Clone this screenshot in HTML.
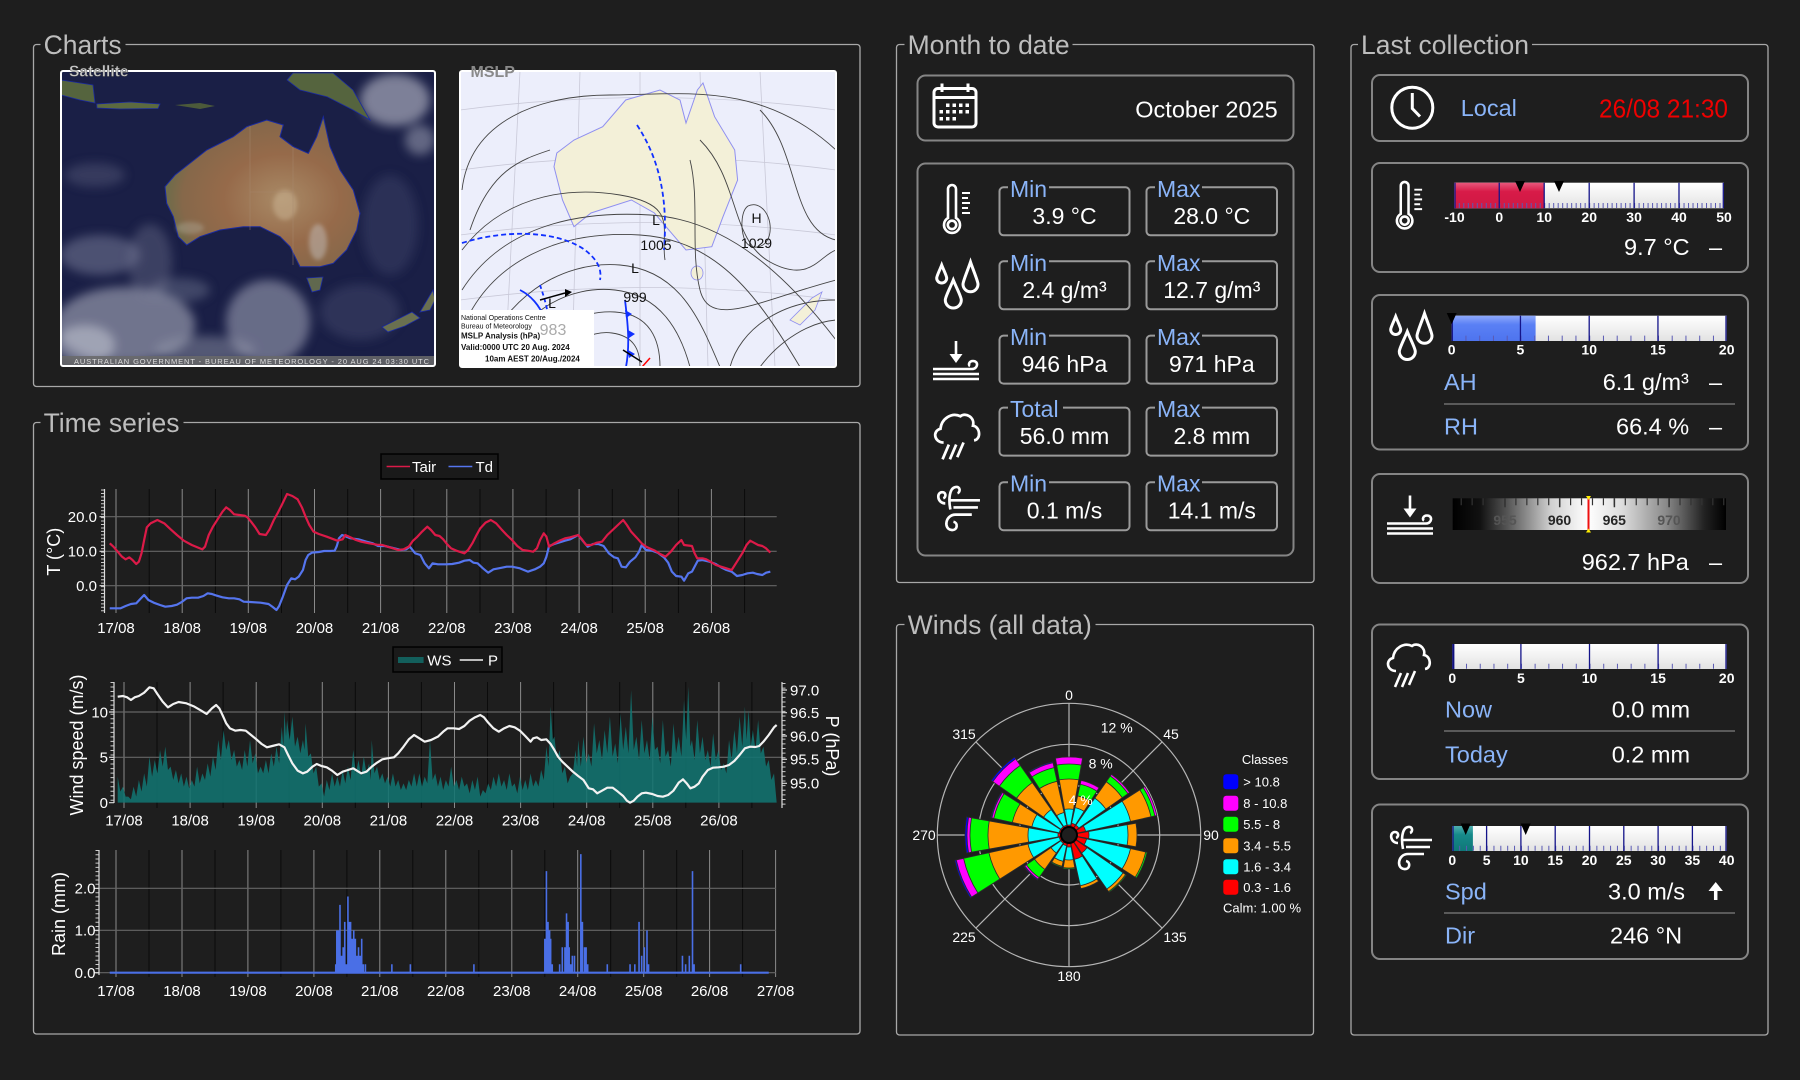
<!DOCTYPE html>
<html><head><meta charset="utf-8">
<style>
html,body{margin:0;padding:0;background:#1e1e1e;}
svg{display:block;}
text{font-family:"Liberation Sans",Arial,sans-serif;}
</style></head><body>
<svg width="1800" height="1080" viewBox="0 0 1800 1080" xmlns="http://www.w3.org/2000/svg">
<defs>
<linearGradient id="gBar" x1="0" y1="0" x2="0" y2="1"><stop offset="0" stop-color="#ffffff"/><stop offset="0.5" stop-color="#f1f1f1"/><stop offset="1" stop-color="#e2e2e2"/></linearGradient>
<linearGradient id="gRed" x1="0" y1="0" x2="0" y2="1"><stop offset="0" stop-color="#e8587c"/><stop offset="0.35" stop-color="#d81b48"/><stop offset="1" stop-color="#cf1944"/></linearGradient>
<linearGradient id="gBlue" x1="0" y1="0" x2="0" y2="1"><stop offset="0" stop-color="#8ea9fb"/><stop offset="0.35" stop-color="#5a80f5"/><stop offset="1" stop-color="#4e74ee"/></linearGradient>
<linearGradient id="gTeal" x1="0" y1="0" x2="0" y2="1"><stop offset="0" stop-color="#4fb0b0"/><stop offset="0.35" stop-color="#168a8a"/><stop offset="1" stop-color="#0f7777"/></linearGradient>
<linearGradient id="gPress" x1="0" y1="0" x2="1" y2="0"><stop offset="0" stop-color="#000"/><stop offset="0.1" stop-color="#111"/><stop offset="0.2" stop-color="#555"/><stop offset="0.36" stop-color="#d0d0d0"/><stop offset="0.495" stop-color="#fff"/><stop offset="0.62" stop-color="#dcdcdc"/><stop offset="0.78" stop-color="#8a8a8a"/><stop offset="0.92" stop-color="#222"/><stop offset="1" stop-color="#000"/></linearGradient>
<radialGradient id="gAus" cx="0.6" cy="0.55" r="0.6"><stop offset="0" stop-color="#a98a66"/><stop offset="0.5" stop-color="#966a4a"/><stop offset="0.85" stop-color="#86684a"/><stop offset="1" stop-color="#6c6c4a"/></radialGradient>
<filter id="bl" x="-50%" y="-50%" width="200%" height="200%"><feGaussianBlur stdDeviation="5"/></filter>
<filter id="bl2" x="-50%" y="-50%" width="200%" height="200%"><feGaussianBlur stdDeviation="2"/></filter>
<clipPath id="cs"><rect x="61" y="71" width="374" height="295"/></clipPath>
<clipPath id="cm"><rect x="460" y="71" width="376" height="296"/></clipPath>
<path id="w" d="M0,0 L-0.1736,-0.9848 A1,1 0 0 1 0.1736,-0.9848 Z" stroke="#2a2a2a" stroke-width="0.8" vector-effect="non-scaling-stroke"/>
<g id="iTherm" fill="none" stroke="#fff" stroke-width="2.6">
<path d="M8,35 V6 A4,4 0 0 1 16,6 V35 A8,8 0 1 1 8,35 Z"/>
<circle cx="12" cy="41.9" r="4.2"/>
<path d="M22,10H30 M22,15H28 M22,20H30 M22,25H28 M22,30H30" stroke-width="2"/>
</g>
<g id="iDrops" fill="none" stroke="#fff" stroke-width="3">
<path d="M6.7,4 C8.7,9.2 11.7,15 11.7,17 A5,5 0 0 1 1.7,17 C1.7,15 4.7,9.2 6.7,4 Z"/>
<path d="M35.5,1 C38.5,9.9 43,20.2 43,23.2 A7.5,7.5 0 0 1 28,23.2 C28,20.2 32.5,9.9 35.5,1 Z"/>
<path d="M18.3,19 C21.5,27 26.3,35.8 26.3,39 A8,8 0 0 1 10.3,39 C10.3,35.8 15.1,27 18.3,19 Z"/>
</g>
<g id="iPress" fill="none" stroke="#fff" stroke-width="2.6">
<path d="M24,1 V18"/>
<polygon points="17.5,14 30.5,14 24,23" fill="#fff" stroke="none"/>
<path d="M1,29 H40 C46,29 47,21 41,21 C37,21 36,25 38,26"/>
<path d="M1,34 H47 M1,39 H47"/>
</g>
<g id="iRain" fill="none" stroke="#fff" stroke-width="2.6">
<path d="M12,30 C3,30 1,19 9,17 C10,7 20,1 28,5 C33,1 42,6 40,14 C47,15 48,27 41,28"/>
<path d="M17,32 L11,46 M24,32 L18,46 M31,30 L25,44"/>
</g>
<g id="iWind" fill="none" stroke="#fff" stroke-width="2.6">
<path d="M14,20 C6,20 5,9 11,9 C15,9 15,14 12,15"/>
<path d="M19,26 C17,16 18,5 24,4 C29,3 29,9 26,10"/>
<path d="M19,17 H48 M22,24 H46"/>
<path d="M24,31 H40 M24,31 C14,31 12,45 20,46 C26,47 27,39 22,38"/>
</g>
</defs>

<rect width="1800" height="1080" fill="#1e1e1e"/>

<!-- fieldsets -->
<g fill="none" stroke="#a8a8a8" stroke-width="1.3">
<rect x="33.5" y="44.5" width="826.5" height="342" rx="3"/>
<rect x="33.5" y="422.5" width="826.5" height="611.5" rx="3"/>
<rect x="896.5" y="44.5" width="417.5" height="538" rx="3"/>
<rect x="896.5" y="624.5" width="417" height="410.5" rx="3"/>
<rect x="1351" y="44.5" width="417" height="990.5" rx="3"/>
</g>
<g fill="#1e1e1e">
<rect x="40.5" y="40" width="85" height="9"/>
<rect x="40.5" y="418" width="143" height="9"/>
<rect x="904.5" y="40" width="168" height="9"/>
<rect x="904.5" y="620" width="191" height="9"/>
<rect x="1358" y="40" width="174" height="9"/>
</g>
<g font-size="26.5" fill="#bdbdbd">
<text x="43.6" y="53.8">Charts</text>
<text x="43.6" y="432">Time series</text>
<text x="907.6" y="53.8">Month to date</text>
<text x="907.7" y="634">Winds (all data)</text>
<text x="1361" y="53.8">Last collection</text>
</g>

<!-- ============ SATELLITE ============ -->
<g clip-path="url(#cs)">
<rect x="61" y="71" width="374" height="295" fill="#1a1f46"/>
<g filter="url(#bl)">
<ellipse cx="125" cy="325" rx="70" ry="38" fill="#b8bac8" opacity="0.55"/>
<ellipse cx="85" cy="345" rx="30" ry="20" fill="#d0d2dc" opacity="0.5"/>
<ellipse cx="100" cy="255" rx="40" ry="20" fill="#8a8ea8" opacity="0.45"/>
<ellipse cx="150" cy="262" rx="22" ry="38" fill="#7a7e98" opacity="0.35"/>
<ellipse cx="268" cy="322" rx="42" ry="42" fill="#a8abbd" opacity="0.55"/>
<ellipse cx="205" cy="350" rx="50" ry="14" fill="#9a9db0" opacity="0.45"/>
<ellipse cx="395" cy="100" rx="35" ry="26" fill="#e0e2ea" opacity="0.5"/>
<ellipse cx="420" cy="140" rx="15" ry="15" fill="#d0d2de" opacity="0.4"/>
<ellipse cx="95" cy="175" rx="30" ry="12" fill="#6a6e8c" opacity="0.35"/>
<ellipse cx="390" cy="225" rx="28" ry="50" fill="#3e446c" opacity="0.45"/>
<ellipse cx="360" cy="312" rx="40" ry="28" fill="#545a7c" opacity="0.35"/>
<ellipse cx="180" cy="290" rx="30" ry="12" fill="#8a8ea6" opacity="0.35"/>
</g>
<path d="M293,73 L333,73 L353,90 L370,120 L353,110 L327,96.7 L300,90 L287,80 Z" fill="#55643e" stroke="#1a2aa0" stroke-width="0.8"/>
<path d="M61,80 L93,85 L95,103 L80,100 L61,95 Z" fill="#55643e" stroke="#1a2aa0" stroke-width="0.8"/>
<path d="M96.7,104 L130,102 L160,104 L158,108.5 L120,109 L97,108 Z" fill="#5c6a40" stroke="#1a2aa0" stroke-width="0.8"/>
<path d="M175,105 L200,103 L215,106 L200,109 Z" fill="#4c5a3a"/>
<polygon points="165,186.7 175,175 206.7,150 233.3,136.7 246.7,126.7 266.7,120 283.3,125 280,136.7 293.3,146.7 308.3,153.3 316.7,136.7 323.3,116.7 330,146.7 340,170 353.3,190 360,213.3 356.7,230 346.7,250 333.3,263.3 320,266.7 300,266.7 290,246.7 280,236.7 273.3,233.3 260,226.7 243.3,226.7 220,230 200,236.7 186.7,245 178.3,236.7 173.3,216.7 166.7,203.3" fill="url(#gAus)" stroke="#1a2aa0" stroke-width="1"/>
<g filter="url(#bl2)">
<ellipse cx="285" cy="205" rx="12" ry="15" fill="#c8b090" opacity="0.55"/>
<ellipse cx="318" cy="242" rx="9" ry="18" fill="#c8c8c8" opacity="0.45"/>
<ellipse cx="190" cy="228" rx="14" ry="6" fill="#b8b8a8" opacity="0.35"/>
</g>
<path d="M250,126 V230 M250,192 H293 M293,147 V265" stroke="#a88a70" stroke-width="0.6" fill="none" opacity="0.7"/>
<path d="M306.7,278 L323,277 L320,290 L312,292 Z" fill="#60684e" stroke="#1a2aa0" stroke-width="0.8"/>
<path d="M382,327 L400,318 L412,312 L420,318 L405,326 L388,332 Z M420,312 L433,290 L435,300 L430,310 Z" fill="#6a7050" stroke="#1a2aa0" stroke-width="0.8"/>
<rect x="61" y="356" width="374" height="10" fill="#6a6a6a" opacity="0.85"/>
<text x="74" y="364" font-size="7.5" fill="#ddd" letter-spacing="0.9">AUSTRALIAN GOVERNMENT - BUREAU OF METEOROLOGY - 20 AUG 24 03:30 UTC</text>
</g>
<rect x="61" y="71" width="374" height="295" rx="2" fill="none" stroke="#fff" stroke-width="2"/>
<text x="69" y="76.5" font-size="15.5" font-weight="bold" fill="#c8c8c8" stroke="#333" stroke-width="0.4">Satellite</text>

<!-- ============ MSLP ============ -->
<g clip-path="url(#cm)">
<rect x="460" y="71" width="376" height="296" fill="#eceefb"/>
<g fill="none" stroke="#c9c9d8" stroke-width="0.8">
<path d="M460,110 Q648,85 836,110 M460,170 Q648,145 836,170 M460,235 Q648,210 836,235 M460,300 Q648,275 836,300"/>
<path d="M520,71 L505,367 M580,71 L572,367 M640,71 L640,367 M700,71 L708,367 M760,71 L775,367"/>
</g>
<polygon points="556.8,153 574,140 602.7,126.7 625.7,100 660,90 680,100 686,123 697.4,90 703,83 714.6,116.7 734.7,150 737.6,180 723,216.7 711.8,246.7 686,250 666,226.7 654.4,213 631.4,200 591,213 574,226.7 562.5,200 554,166.7" fill="#f3f0d8" stroke="#8f8ff0" stroke-width="1"/>
<ellipse cx="697" cy="273" rx="6" ry="7" fill="#f3f0d8" stroke="#8f8ff0" stroke-width="0.8"/>
<path d="M790,320 L812,298 L822,292 L815,310 L800,325 Z" fill="#f3f0d8" stroke="#8f8ff0" stroke-width="0.8"/>
<g fill="none" stroke="#444" stroke-width="0.9">
<path d="M462,190 C470,120 540,95 610,95 S760,80 836,150"/>
<path d="M470,230 C490,170 520,160 550,150"/>
<path d="M462,250 C500,200 560,185 620,195 S660,230 665,260"/>
<path d="M462,290 C500,230 570,210 650,215 S790,280 836,340"/>
<path d="M462,330 C490,260 560,230 640,235 S760,300 800,367"/>
<path d="M480,367 C500,300 560,260 620,265 S700,320 720,367"/>
<path d="M500,367 C520,310 570,285 615,290 S680,330 690,367"/>
<path d="M530,367 C540,330 580,310 615,312 S660,340 660,367"/>
<path d="M560,367 C565,345 590,330 612,333 S640,350 640,367"/>
<path d="M700,140 C740,180 730,240 770,262 S820,255 836,250"/>
<path d="M760,110 C800,150 790,230 836,240"/>
<path d="M730,367 C740,330 780,300 836,300"/>
<path d="M760,367 C780,340 810,322 836,320"/>
<path d="M690,160 C700,200 690,250 700,290 S760,300 836,280"/>
<path d="M748,206 C760,200 772,215 770,232 C768,250 748,252 744,238 C740,225 742,210 748,206 Z"/>
</g>
<g fill="none" stroke="#1030ff" stroke-width="1.8">
<path d="M637,125 C660,160 668,200 664,250" stroke-dasharray="5,3"/>
<path d="M462,243 C510,228 560,232 585,250 C598,260 602,270 600,280" stroke-dasharray="5,3"/>
<path d="M540,285 C545,300 550,315 548,330" stroke-dasharray="4,3"/>
<path d="M625,300 C628,325 630,345 626,367"/>
<path d="M520,290 C530,295 540,305 545,320"/>
</g>
<g fill="#1030ff"><polygon points="625,310 632,314 626,318"/><polygon points="628,330 635,334 629,338"/><polygon points="628,350 635,354 629,358"/></g>
<path d="M540,300 L565,293" stroke="#000" stroke-width="1.5"/><polygon points="565,289 572,292 565,297" fill="#000"/>
<path d="M623,350 L642,362" stroke="#000" stroke-width="1.5"/>
<path d="M642,367 L650,358" stroke="#f00" stroke-width="1.5"/>
<g font-size="14" fill="#111" text-anchor="middle">
<text x="656" y="225">L</text><text x="656" y="250">1005</text>
<text x="635" y="273">L</text><text x="635" y="302">999</text>
<text x="756.5" y="223">H</text><text x="756.5" y="248">1029</text>
<text x="552" y="308">L</text>
</g>
<rect x="460" y="310" width="134" height="57" fill="#fff"/>
<text x="553" y="335" font-size="16" fill="#aaa" text-anchor="middle">983</text>
<g fill="#111">
<text x="461" y="320" font-size="7">National Operations Centre</text>
<text x="461" y="328.5" font-size="7">Bureau of Meteorology</text>
<text x="461" y="338.5" font-size="8" font-weight="bold">MSLP Analysis (hPa)</text>
<text x="461" y="350" font-size="8" font-weight="bold">Valid:0000 UTC 20 Aug. 2024</text>
<text x="485" y="361.5" font-size="8" font-weight="bold">10am AEST 20/Aug./2024</text>
</g>
</g>
<rect x="460" y="71" width="376" height="296" rx="2" fill="none" stroke="#fff" stroke-width="2"/>
<text x="470.5" y="77" font-size="16" font-weight="bold" fill="#8a8a8a">MSLP</text>

<!-- ============ TEMPERATURE CHART ============ -->
<path d="M149.2,489V613 M215.4,489V613 M281.5,489V613 M347.7,489V613 M413.8,489V613 M480,489V613 M546.1,489V613 M612.3,489V613 M678.4,489V613 M744.6,489V613" stroke="#0b0b0b" stroke-width="1"/>
<path d="M116,489V613 M182.2,489V613 M248.3,489V613 M314.5,489V613 M380.6,489V613 M446.8,489V613 M512.9,489V613 M579.1,489V613 M645.2,489V613 M711.4,489V613" stroke="#8a8a8a" stroke-width="1"/>
<path d="M104.5,516.7H776.7 M104.5,551.3H776.7 M104.5,585.7H776.7" stroke="#666" stroke-width="1.2"/>
<path d="M104.5,489V613" stroke="#ddd" stroke-width="1.2"/>
<line x1="102.5" y1="489.5" x2="102.5" y2="613" stroke="#ccc" stroke-width="3" stroke-dasharray="1 2.45"/>
<path d="M99.5,516.7H104.5 M99.5,551.3H104.5 M99.5,585.7H104.5" stroke="#ddd" stroke-width="1.2"/>
<g font-size="15" fill="#fff" text-anchor="end">
<text x="97" y="522">20.0</text><text x="97" y="556.7">10.0</text><text x="97" y="591">0.0</text>
</g>
<g font-size="15" fill="#fff" text-anchor="middle">
<text x="116" y="633">17/08</text><text x="182.2" y="633">18/08</text><text x="248.3" y="633">19/08</text><text x="314.5" y="633">20/08</text><text x="380.6" y="633">21/08</text><text x="446.8" y="633">22/08</text><text x="512.9" y="633">23/08</text><text x="579.1" y="633">24/08</text><text x="645.2" y="633">25/08</text><text x="711.4" y="633">26/08</text>
</g>
<text transform="translate(54,551.7) rotate(-90)" font-size="18" fill="#fff" text-anchor="middle" dominant-baseline="central">T (°C)</text>
<g transform="translate(33,420) scale(0.529299,0.333333)" fill="none" stroke-width="2.2" stroke-linejoin="round">
<polyline vector-effect="non-scaling-stroke" stroke="#5575ee" points="145,565 155,565 165,565 175,558 185,552 195,550 202,538 210,525 218,540 228,548 240,555 250,560 262,558 272,554 282,545 290,535 300,533 312,533 322,528 330,520 338,522 345,526 358,532 370,535 380,535 390,538 398,545 410,546 430,548 445,552 452,560 460,570 465,558 472,530 480,495 488,475 495,478 502,470 510,450 515,420 520,405 527,398 540,396 550,393 562,393 570,392 574,378 578,355 584,345 592,350 600,355 615,358 630,365 642,370 652,378 665,378 680,384 695,390 705,388 712,380 722,400 732,405 740,430 748,445 755,430 765,433 780,433 792,432 805,428 815,422 825,420 832,428 840,430 850,445 860,458 870,448 880,445 895,440 905,440 920,445 935,455 948,448 958,440 965,430 970,410 975,378 985,372 995,367 1005,362 1015,358 1030,345 1040,365 1048,380 1058,372 1068,372 1078,378 1088,400 1098,412 1105,415 1112,440 1120,442 1128,425 1138,412 1145,395 1150,375 1158,390 1170,392 1180,398 1192,412 1200,428 1207,455 1215,468 1225,470 1230,482 1238,460 1245,455 1250,440 1256,422 1265,420 1278,425 1290,432 1300,442 1310,450 1320,455 1330,468 1340,465 1350,460 1360,458 1368,462 1378,465 1385,458 1393,455"/>
<polyline vector-effect="non-scaling-stroke" stroke="#dc1a48" points="145,370 152,380 160,395 168,410 175,418 182,412 188,420 195,432 200,425 205,400 210,360 215,322 222,310 235,300 248,310 260,328 272,345 285,362 300,375 320,388 325,380 332,345 340,320 350,295 358,275 365,262 372,270 380,283 390,285 400,287 405,292 412,305 420,322 428,342 440,345 447,328 455,300 462,280 470,255 480,222 490,228 500,238 508,262 515,290 522,315 530,335 540,342 555,350 565,356 575,362 585,358 590,345 600,352 610,360 620,365 635,370 650,374 660,375 670,380 680,385 690,390 700,388 710,380 718,362 725,352 735,335 745,320 752,330 760,345 768,348 775,358 782,372 790,385 800,392 815,400 822,390 830,370 838,345 845,325 855,308 865,300 875,310 885,328 895,345 905,360 915,378 925,390 935,392 945,395 952,385 958,360 965,340 970,350 975,380 985,370 995,362 1005,355 1015,352 1030,345 1038,360 1045,375 1055,375 1065,368 1075,365 1085,345 1095,330 1105,315 1115,300 1122,315 1130,335 1140,352 1150,370 1158,380 1165,385 1175,392 1185,402 1195,410 1205,395 1215,375 1225,360 1230,375 1245,378 1250,400 1255,415 1265,415 1272,418 1280,425 1290,435 1300,440 1310,445 1320,450 1330,425 1340,400 1348,375 1355,362 1362,368 1370,375 1378,378 1385,385 1393,398"/>
</g>
<rect x="381" y="454" width="117" height="25" fill="#1a1a1a" stroke="#000" stroke-width="1.5"/>
<path d="M386.6,466.5H410" stroke="#dc1a48" stroke-width="1.5"/>
<path d="M448.5,466.5H472.3" stroke="#5575ee" stroke-width="1.5"/>
<g font-size="15" fill="#fff"><text x="412" y="472">Tair</text><text x="475.5" y="472">Td</text></g>

<!-- ============ WIND CHART ============ -->
<path d="M157,682V808 M223.1,682V808 M289.2,682V808 M355.3,682V808 M421.4,682V808 M487.5,682V808 M553.6,682V808 M619.7,682V808 M685.8,682V808 M751.9,682V808" stroke="#0b0b0b" stroke-width="1"/>
<path d="M124,682V808 M190.1,682V808 M256.2,682V808 M322.3,682V808 M388.4,682V808 M454.5,682V808 M520.6,682V808 M586.7,682V808 M652.8,682V808 M718.9,682V808" stroke="#8a8a8a" stroke-width="1"/>
<path d="M114,712H782 M114,757.3H782" stroke="#666" stroke-width="1.2"/>
<g transform="translate(33,640) scale(0.529299,0.333333)">
<polygon fill="#127471" fill-opacity="0.88" points="160,488 160,410 165,455 170,440 175,470 180,470 185,478 190,440 195,470 200,420 205,455 210,400 215,440 220,350 225,410 230,360 235,400 240,330 245,380 250,320 255,390 260,380 265,420 270,390 275,430 280,400 285,440 290,410 295,445 300,420 305,440 310,380 315,430 320,400 325,420 330,370 335,410 340,350 345,390 350,300 355,360 360,270 365,330 370,300 375,360 380,330 385,380 390,360 395,390 400,330 405,380 410,300 415,370 420,340 425,400 430,380 435,400 440,360 445,400 450,340 455,380 460,320 465,370 470,260 473,320 475,215 478,290 480,240 485,300 490,230 495,320 500,290 505,340 510,300 513,330 515,250 520,350 525,340 530,400 535,380 540,440 545,430 550,470 555,420 560,450 565,400 570,440 575,410 580,440 585,390 590,430 595,380 600,420 605,330 610,400 615,360 620,410 625,350 630,400 635,370 638,420 640,300 645,400 650,380 655,420 660,400 665,430 670,410 675,440 680,400 685,440 690,420 695,450 700,430 705,450 710,420 715,440 720,400 725,440 730,400 735,440 740,410 745,430 750,300 755,420 760,400 765,440 770,410 775,450 780,420 785,440 790,380 795,440 800,420 805,450 810,410 815,440 820,430 825,460 830,420 835,450 840,410 845,470 850,450 855,460 860,430 865,450 870,410 875,440 880,400 885,440 890,420 895,450 900,400 905,440 910,430 915,460 920,410 925,450 930,420 935,450 940,400 945,440 950,420 955,440 960,390 965,420 970,320 974,380 978,200 982,300 985,290 990,360 995,330 1000,400 1005,380 1010,430 1015,410 1020,400 1025,330 1028,380 1030,300 1035,380 1040,290 1045,370 1050,340 1055,380 1060,250 1065,340 1070,300 1075,360 1080,270 1085,340 1090,230 1095,350 1100,310 1105,370 1110,220 1115,330 1120,260 1125,340 1130,150 1135,330 1140,290 1145,360 1150,240 1155,340 1160,300 1165,360 1170,230 1175,330 1180,320 1185,370 1190,240 1195,350 1200,330 1205,380 1210,250 1215,340 1220,290 1225,350 1230,180 1234,300 1238,140 1242,320 1245,300 1250,360 1255,240 1260,340 1265,290 1270,360 1275,330 1280,380 1285,280 1290,360 1295,330 1300,390 1305,370 1310,400 1315,300 1320,360 1325,270 1330,340 1335,230 1340,320 1345,200 1348,300 1352,210 1356,320 1360,270 1365,330 1370,240 1375,340 1380,320 1385,380 1390,360 1395,420 1400,400 1405,488"/>
<polyline vector-effect="non-scaling-stroke" fill="none" stroke="#f2f2f2" stroke-width="2.2" stroke-linejoin="round" points="160,170 170,168 178,172 185,180 192,172 200,168 210,158 220,142 228,145 235,162 245,185 255,202 265,192 275,186 290,190 305,200 318,212 328,222 338,205 346,195 352,205 358,225 365,250 372,265 382,272 392,270 402,272 412,285 422,298 432,312 442,322 452,318 465,313 475,322 482,345 490,370 500,392 510,400 518,395 528,380 536,372 545,378 555,382 565,392 575,405 585,395 595,390 605,385 612,392 620,400 630,395 640,380 650,368 660,358 670,355 682,352 690,340 700,320 710,298 720,285 730,295 740,305 752,300 765,290 775,275 783,265 795,265 805,267 815,258 825,242 835,232 845,225 852,232 860,248 870,265 880,275 890,265 900,258 910,262 920,272 930,288 940,305 945,295 952,292 960,300 970,298 978,312 985,330 992,350 1000,365 1010,380 1020,395 1030,408 1040,420 1050,445 1058,448 1066,460 1075,452 1085,443 1095,443 1105,455 1115,468 1122,482 1128,488 1135,482 1142,470 1150,460 1158,458 1170,462 1180,468 1190,470 1200,465 1210,452 1220,428 1228,418 1235,430 1242,445 1250,440 1258,430 1265,410 1275,390 1285,383 1295,382 1305,380 1315,375 1325,363 1335,345 1345,325 1355,320 1365,321 1372,318 1380,305 1390,285 1400,262 1405,255"/>
</g>
<path d="M114,682V803 M782,682V808" stroke="#ddd" stroke-width="1.2"/>
<line x1="112" y1="682" x2="112" y2="803" stroke="#ccc" stroke-width="3" stroke-dasharray="1 3.53"/>
<line x1="784" y1="683" x2="784" y2="808" stroke="#ccc" stroke-width="3" stroke-dasharray="1 3.64"/>
<path d="M109,712H114 M109,757.3H114 M109,802.7H114 M782,690H787 M782,712.7H787 M782,736H787 M782,759.3H787 M782,783.3H787" stroke="#ddd" stroke-width="1.2"/>
<g font-size="15" fill="#fff" text-anchor="end">
<text x="108" y="717.4">10</text><text x="108" y="762.7">5</text><text x="108" y="808">0</text>
</g>
<g font-size="15" fill="#fff">
<text x="790" y="695.4">97.0</text><text x="790" y="718">96.5</text><text x="790" y="741.4">96.0</text><text x="790" y="764.7">95.5</text><text x="790" y="788.7">95.0</text>
</g>
<g font-size="15" fill="#fff" text-anchor="middle">
<text x="124" y="825.4">17/08</text><text x="190.1" y="825.4">18/08</text><text x="256.2" y="825.4">19/08</text><text x="322.3" y="825.4">20/08</text><text x="388.4" y="825.4">21/08</text><text x="454.5" y="825.4">22/08</text><text x="520.6" y="825.4">23/08</text><text x="586.7" y="825.4">24/08</text><text x="652.8" y="825.4">25/08</text><text x="718.9" y="825.4">26/08</text>
</g>
<text transform="translate(77,745) rotate(-90)" font-size="18" fill="#fff" text-anchor="middle" dominant-baseline="central">Wind speed (m/s)</text>
<text transform="translate(832,746) rotate(90)" font-size="18" fill="#fff" text-anchor="middle" dominant-baseline="central">P (hPa)</text>
<rect x="393" y="647" width="109" height="25" fill="#1a1a1a" stroke="#000" stroke-width="1.5"/>
<rect x="398" y="657" width="25.6" height="6" fill="#135f5c"/>
<path d="M459.7,660H483" stroke="#f2f2f2" stroke-width="1.5"/>
<g font-size="15" fill="#fff"><text x="427.3" y="665.5">WS</text><text x="488" y="665.5">P</text></g>

<!-- ============ RAIN CHART ============ -->
<path d="M149,850V977 M215,850V977 M280.9,850V977 M346.9,850V977 M412.8,850V977 M478.8,850V977 M544.8,850V977 M610.7,850V977 M676.7,850V977 M742.6,850V977" stroke="#0b0b0b" stroke-width="1"/>
<path d="M116,850V977 M182,850V977 M247.9,850V977 M313.9,850V977 M379.8,850V977 M445.8,850V977 M511.8,850V977 M577.7,850V977 M643.7,850V977 M709.6,850V977 M775.6,850V977" stroke="#8a8a8a" stroke-width="1"/>
<path d="M99,888.3H776 M99,930.3H776 M99,972.7H776" stroke="#666" stroke-width="1.2"/>
<path d="M99,850V975" stroke="#ddd" stroke-width="1.2"/>
<line x1="97" y1="850" x2="97" y2="975" stroke="#ccc" stroke-width="3" stroke-dasharray="1 3.22"/>
<path d="M94,888.3H99 M94,930.3H99 M94,972.7H99" stroke="#ddd" stroke-width="1.2"/>
<g transform="translate(33,830) scale(0.529299,0.333333)" fill="none" stroke="#4a6fe6">
<path vector-effect="non-scaling-stroke" stroke-width="2.2" d="M145,428H1390"/>
<path vector-effect="non-scaling-stroke" stroke-width="1.6" d="M572,428V402.6 M574,428V301 M577,428V301 M580,428V224.8 M583,428V377.2 M586,428V351.8 M589,428V275.6 M592,428V402.6 M595,428V199.4 M598,428V275.6 M600,428V275.6 M603,428V326.4 M606,428V301 M609,428V326.4 M612,428V377.2 M615,428V351.8 M618,428V377.2 M621,428V326.4 M624,428V402.6 M628,428V402.6 M678,428V402.6 M713,428V402.6 M833,428V402.6 M967,428V326.4 M970,428V123.2 M973,428V275.6 M976,428V301 M978,428V326.4 M981,428V402.6 M995,428V402.6 M1000,428V351.8 M1005,428V351.8 M1008,428V250.2 M1011,428V275.6 M1013,428V351.8 M1016,428V402.6 M1019,428V377.2 M1023,428V377.2 M1035,428V72.4 M1038,428V275.6 M1042,428V351.8 M1045,428V351.8 M1048,428V402.6 M1085,428V402.6 M1128,428V402.6 M1137,428V402.6 M1145,428V275.6 M1150,428V377.2 M1155,428V351.8 M1160,428V301 M1163,428V402.6 M1227,428V377.2 M1233,428V402.6 M1240,428V377.2 M1246,428V123.2 M1249,428V402.6 M1337,428V402.6"/>
</g>
<g font-size="15" fill="#fff" text-anchor="end">
<text x="95.5" y="893.7">2.0</text><text x="95.5" y="935.7">1.0</text><text x="95.5" y="978">0.0</text>
</g>
<g font-size="15" fill="#fff" text-anchor="middle">
<text x="116" y="996">17/08</text><text x="182" y="996">18/08</text><text x="247.9" y="996">19/08</text><text x="313.9" y="996">20/08</text><text x="379.8" y="996">21/08</text><text x="445.8" y="996">22/08</text><text x="511.8" y="996">23/08</text><text x="577.7" y="996">24/08</text><text x="643.7" y="996">25/08</text><text x="709.6" y="996">26/08</text><text x="775.6" y="996">27/08</text>
</g>
<text transform="translate(59,914) rotate(-90)" font-size="18" fill="#fff" text-anchor="middle" dominant-baseline="central">Rain (mm)</text>

<!-- ============ MONTH TO DATE ============ -->
<g fill="none" stroke="#858585" stroke-width="2">
<rect x="917.5" y="75.5" width="376" height="65" rx="8"/>
<rect x="917.5" y="163.5" width="376" height="392" rx="8"/>
</g>
<g fill="none" stroke="#fff" stroke-width="3">
<rect x="934" y="88.5" width="42" height="38.5" rx="4"/>
<path d="M934,97.5H976 M942,83.5V92 M968,83.5V92"/>
</g>
<g fill="#fff">
<rect x="946" y="103.5" width="3.5" height="3.5"/><rect x="952.5" y="103.5" width="3.5" height="3.5"/><rect x="959" y="103.5" width="3.5" height="3.5"/><rect x="965.5" y="103.5" width="3.5" height="3.5"/>
<rect x="939.5" y="110" width="3.5" height="3.5"/><rect x="946" y="110" width="3.5" height="3.5"/><rect x="952.5" y="110" width="3.5" height="3.5"/><rect x="959" y="110" width="3.5" height="3.5"/><rect x="965.5" y="110" width="3.5" height="3.5"/>
<rect x="939.5" y="117" width="3.5" height="3.5"/><rect x="946" y="117" width="3.5" height="3.5"/><rect x="952.5" y="117" width="3.5" height="3.5"/>
</g>
<text x="1277.7" y="117.3" font-size="23.5" fill="#fff" text-anchor="end">October 2025</text>

<use href="#iTherm" transform="translate(940,183)"/>
<use href="#iDrops" transform="translate(935,261)"/>
<use href="#iPress" transform="translate(932,340)"/>
<use href="#iRain" transform="translate(931,411) scale(1.05)"/>
<use href="#iWind" transform="translate(931,483) scale(1.02)"/>

<g fill="none" stroke="#9a9a9a" stroke-width="2">
<rect x="999.5" y="187.3" width="130" height="48" rx="4"/><rect x="1146.5" y="187.3" width="130.5" height="48" rx="4"/>
<rect x="999.5" y="261.3" width="130" height="48" rx="4"/><rect x="1146.5" y="261.3" width="130.5" height="48" rx="4"/>
<rect x="999.5" y="335.6" width="130" height="48" rx="4"/><rect x="1146.5" y="335.6" width="130.5" height="48" rx="4"/>
<rect x="999.5" y="407.6" width="130" height="48" rx="4"/><rect x="1146.5" y="407.6" width="130.5" height="48" rx="4"/>
<rect x="999.5" y="482.2" width="130" height="48" rx="4"/><rect x="1146.5" y="482.2" width="130.5" height="48" rx="4"/>
</g>
<g fill="#1e1e1e">
<rect x="1008" y="184" width="41" height="7"/><rect x="1155" y="184" width="47" height="7"/>
<rect x="1008" y="258" width="41" height="7"/><rect x="1155" y="258" width="47" height="7"/>
<rect x="1008" y="332" width="41" height="7"/><rect x="1155" y="332" width="47" height="7"/>
<rect x="1008" y="404" width="55" height="7"/><rect x="1155" y="404" width="47" height="7"/>
<rect x="1008" y="479" width="41" height="7"/><rect x="1155" y="479" width="47" height="7"/>
</g>
<g font-size="23" fill="#8ab4f8">
<text x="1010" y="196.8">Min</text><text x="1157" y="196.8">Max</text>
<text x="1010" y="270.8">Min</text><text x="1157" y="270.8">Max</text>
<text x="1010" y="345.1">Min</text><text x="1157" y="345.1">Max</text>
<text x="1010" y="417.1">Total</text><text x="1157" y="417.1">Max</text>
<text x="1010" y="491.7">Min</text><text x="1157" y="491.7">Max</text>
</g>
<g font-size="23" fill="#fff" text-anchor="middle">
<text x="1064.5" y="223.8">3.9 °C</text><text x="1211.8" y="223.8">28.0 °C</text>
<text x="1064.5" y="297.8">2.4 g/m³</text><text x="1211.8" y="297.8">12.7 g/m³</text>
<text x="1064.5" y="372.1">946 hPa</text><text x="1211.8" y="372.1">971 hPa</text>
<text x="1064.5" y="444.1">56.0 mm</text><text x="1211.8" y="444.1">2.8 mm</text>
<text x="1064.5" y="518.7">0.1 m/s</text><text x="1211.8" y="518.7">14.1 m/s</text>
</g>

<!-- ============ WIND ROSE ============ -->
<g fill="none" stroke="#b5b5b5" stroke-width="1.2">
<circle cx="1069" cy="835" r="131.7"/><circle cx="1069" cy="835" r="90.7"/><circle cx="1069" cy="835" r="50"/>
<path d="M1069,703.3V966.7 M937.3,835H1200.7 M975.9,741.9L1162.1,928.1 M1162.1,741.9L975.9,928.1"/>
</g>
<g transform="translate(1069,835)">
<use href="#w" transform="rotate(0) scale(78)" fill="#ff00ff"/><use href="#w" transform="rotate(0) scale(71)" fill="#00ff00"/><use href="#w" transform="rotate(0) scale(56)" fill="#ff9900"/><use href="#w" transform="rotate(0) scale(26)" fill="#00ffff"/><use href="#w" transform="rotate(0) scale(10)" fill="#ff0000"/>
<use href="#w" transform="rotate(22.5) scale(56)" fill="#ff00ff"/><use href="#w" transform="rotate(22.5) scale(52)" fill="#00ff00"/><use href="#w" transform="rotate(22.5) scale(40)" fill="#ff9900"/><use href="#w" transform="rotate(22.5) scale(28)" fill="#00ffff"/><use href="#w" transform="rotate(22.5) scale(12)" fill="#ff0000"/>
<use href="#w" transform="rotate(45) scale(74)" fill="#ff00ff"/><use href="#w" transform="rotate(45) scale(72)" fill="#00ff00"/><use href="#w" transform="rotate(45) scale(65)" fill="#ff9900"/><use href="#w" transform="rotate(45) scale(45)" fill="#00ffff"/><use href="#w" transform="rotate(45) scale(12)" fill="#ff0000"/>
<use href="#w" transform="rotate(67.5) scale(90)" fill="#ff00ff"/><use href="#w" transform="rotate(67.5) scale(88)" fill="#00ff00"/><use href="#w" transform="rotate(67.5) scale(84)" fill="#ff9900"/><use href="#w" transform="rotate(67.5) scale(63)" fill="#00ffff"/><use href="#w" transform="rotate(67.5) scale(17)" fill="#ff0000"/>
<use href="#w" transform="rotate(90) scale(68)" fill="#ff9900"/><use href="#w" transform="rotate(90) scale(59)" fill="#00ffff"/><use href="#w" transform="rotate(90) scale(20)" fill="#ff0000"/>
<use href="#w" transform="rotate(112.5) scale(80)" fill="#00ff00"/><use href="#w" transform="rotate(112.5) scale(78.5)" fill="#ff9900"/><use href="#w" transform="rotate(112.5) scale(63)" fill="#00ffff"/><use href="#w" transform="rotate(112.5) scale(18)" fill="#ff0000"/>
<use href="#w" transform="rotate(135) scale(70)" fill="#00ff00"/><use href="#w" transform="rotate(135) scale(69)" fill="#ff9900"/><use href="#w" transform="rotate(135) scale(66)" fill="#00ffff"/><use href="#w" transform="rotate(135) scale(22)" fill="#ff0000"/>
<use href="#w" transform="rotate(157.5) scale(55)" fill="#ff9900"/><use href="#w" transform="rotate(157.5) scale(52)" fill="#00ffff"/><use href="#w" transform="rotate(157.5) scale(25)" fill="#ff0000"/>
<use href="#w" transform="rotate(180) scale(34)" fill="#00ff00"/><use href="#w" transform="rotate(180) scale(33)" fill="#ff9900"/><use href="#w" transform="rotate(180) scale(25)" fill="#00ffff"/><use href="#w" transform="rotate(180) scale(12)" fill="#ff0000"/>
<use href="#w" transform="rotate(202.5) scale(33)" fill="#00ff00"/><use href="#w" transform="rotate(202.5) scale(32)" fill="#ff9900"/><use href="#w" transform="rotate(202.5) scale(27)" fill="#00ffff"/><use href="#w" transform="rotate(202.5) scale(11)" fill="#ff0000"/>
<use href="#w" transform="rotate(225) scale(55)" fill="#0000ff"/><use href="#w" transform="rotate(225) scale(54)" fill="#ff00ff"/><use href="#w" transform="rotate(225) scale(52)" fill="#00ff00"/><use href="#w" transform="rotate(225) scale(42)" fill="#ff9900"/><use href="#w" transform="rotate(225) scale(22)" fill="#00ffff"/><use href="#w" transform="rotate(225) scale(10)" fill="#ff0000"/>
<use href="#w" transform="rotate(247.5) scale(117)" fill="#0000ff"/><use href="#w" transform="rotate(247.5) scale(115.5)" fill="#ff00ff"/><use href="#w" transform="rotate(247.5) scale(108)" fill="#00ff00"/><use href="#w" transform="rotate(247.5) scale(82)" fill="#ff9900"/><use href="#w" transform="rotate(247.5) scale(42)" fill="#00ffff"/><use href="#w" transform="rotate(247.5) scale(10)" fill="#ff0000"/>
<use href="#w" transform="rotate(270) scale(104)" fill="#0000ff"/><use href="#w" transform="rotate(270) scale(102)" fill="#ff00ff"/><use href="#w" transform="rotate(270) scale(99)" fill="#00ff00"/><use href="#w" transform="rotate(270) scale(81)" fill="#ff9900"/><use href="#w" transform="rotate(270) scale(41)" fill="#00ffff"/><use href="#w" transform="rotate(270) scale(11)" fill="#ff0000"/>
<use href="#w" transform="rotate(292.5) scale(80)" fill="#0000ff"/><use href="#w" transform="rotate(292.5) scale(79)" fill="#ff00ff"/><use href="#w" transform="rotate(292.5) scale(77)" fill="#00ff00"/><use href="#w" transform="rotate(292.5) scale(58)" fill="#ff9900"/><use href="#w" transform="rotate(292.5) scale(38)" fill="#00ffff"/><use href="#w" transform="rotate(292.5) scale(10)" fill="#ff0000"/>
<use href="#w" transform="rotate(315) scale(95)" fill="#0000ff"/><use href="#w" transform="rotate(315) scale(93)" fill="#ff00ff"/><use href="#w" transform="rotate(315) scale(85)" fill="#00ff00"/><use href="#w" transform="rotate(315) scale(64)" fill="#ff9900"/><use href="#w" transform="rotate(315) scale(31)" fill="#00ffff"/><use href="#w" transform="rotate(315) scale(10)" fill="#ff0000"/>
<use href="#w" transform="rotate(337.5) scale(75)" fill="#0000ff"/><use href="#w" transform="rotate(337.5) scale(74)" fill="#ff00ff"/><use href="#w" transform="rotate(337.5) scale(69)" fill="#00ff00"/><use href="#w" transform="rotate(337.5) scale(55)" fill="#ff9900"/><use href="#w" transform="rotate(337.5) scale(23)" fill="#00ffff"/><use href="#w" transform="rotate(337.5) scale(10)" fill="#ff0000"/>
<circle cx="0" cy="0" r="8" fill="#1e1e1e" stroke="#000" stroke-width="2"/>
</g>
<g font-size="14" fill="#fff" text-anchor="middle">
<text x="1069" y="700">0</text><text x="1171" y="739">45</text><text x="1211" y="840">90</text><text x="1175" y="942">135</text><text x="1069" y="981">180</text><text x="964" y="942">225</text><text x="924" y="840">270</text><text x="964" y="739">315</text>
<text x="1116.7" y="732.3">12 %</text><text x="1100.7" y="768.3">8 %</text><text x="1080.7" y="805">4 %</text>
</g>
<text x="1265" y="764" font-size="13" fill="#fff" text-anchor="middle">Classes</text>
<rect x="1223.3" y="774.2" width="15" height="15" rx="3" fill="#0000ff"/>
<rect x="1223.3" y="795.8" width="15" height="15" rx="3" fill="#ff00ff"/>
<rect x="1223.3" y="816.8" width="15" height="15" rx="3" fill="#00ff00"/>
<rect x="1223.3" y="838.2" width="15" height="15" rx="3" fill="#ff9900"/>
<rect x="1223.3" y="859.2" width="15" height="15" rx="3" fill="#00ffff"/>
<rect x="1223.3" y="879.8" width="15" height="15" rx="3" fill="#ff0000"/>
<g font-size="13" fill="#fff">
<text x="1243.3" y="786.4">&gt; 10.8</text>
<text x="1243.3" y="808">8 - 10.8</text>
<text x="1243.3" y="829">5.5 - 8</text>
<text x="1243.3" y="850.4">3.4 - 5.5</text>
<text x="1243.3" y="871.4">1.6 - 3.4</text>
<text x="1243.3" y="892">0.3 - 1.6</text>
<text x="1223" y="912.3">Calm: 1.00 %</text>
</g>

<!-- ============ LAST COLLECTION ============ -->
<g fill="none" stroke="#858585" stroke-width="2">
<rect x="1372" y="75" width="376" height="66" rx="8"/>
<rect x="1372" y="163" width="376" height="109" rx="8"/>
<rect x="1372" y="295" width="376" height="154.5" rx="8"/>
<rect x="1372" y="474" width="376" height="109" rx="8"/>
<rect x="1372" y="624.5" width="376" height="154.5" rx="8"/>
<rect x="1372" y="804.5" width="376" height="154.5" rx="8"/>
</g>
<!-- clock -->
<circle cx="1412.3" cy="107.7" r="20.5" fill="none" stroke="#fff" stroke-width="3"/>
<path d="M1412.3,93V108.5L1420,116.5" fill="none" stroke="#fff" stroke-width="3"/>
<text x="1460.7" y="116" font-size="23.5" fill="#8ab4f8">Local</text>
<text x="1599" y="117.3" font-size="26" fill="#ee0000" font-family="Liberation Mono, monospace" textLength="129" lengthAdjust="spacingAndGlyphs">26/08 21:30</text>

<!-- temp -->
<use href="#iTherm" transform="translate(1393,180) scale(0.97)"/>
<rect x="1454.3" y="182.7" width="269.7" height="25.6" fill="url(#gBar)"/>
<rect x="1454.3" y="182.7" width="89.9" height="25.6" fill="url(#gRed)"/>
<line x1="1454.3" y1="205.5" x2="1724" y2="205.5" stroke="#5a5ab4" stroke-width="5" stroke-dasharray="1 3.495"/>
<path d="M1455,182.7v25.6 M1499.25,182.7v25.6 M1544.2,182.7v25.6 M1589.2,182.7v25.6 M1634.1,182.7v25.6 M1679,182.7v25.6 M1723.3,182.7v25.6" stroke="#14148a" stroke-width="1.3"/>
<polygon points="1515,181 1525,181 1520,192" fill="#000"/><polygon points="1554,181 1564,181 1559,192" fill="#000"/>
<g font-size="14" font-weight="bold" fill="#fff" text-anchor="middle">
<text x="1454.5" y="222">-10</text><text x="1499.25" y="222">0</text><text x="1544.2" y="222">10</text><text x="1589.2" y="222">20</text><text x="1634.1" y="222">30</text><text x="1679" y="222">40</text><text x="1724" y="222">50</text>
</g>
<text x="1624" y="255" font-size="23.5" fill="#fff">9.7 °C</text>
<text x="1709" y="255" font-size="23.5" fill="#fff">–</text>

<!-- humidity -->
<use href="#iDrops" transform="translate(1389,312.5)"/>
<rect x="1451.7" y="315.7" width="275" height="25.3" fill="url(#gBar)"/>
<rect x="1451.7" y="315.7" width="83.9" height="25.3" fill="url(#gBlue)"/>
<line x1="1451.7" y1="338.3" x2="1726.7" y2="338.3" stroke="#5a5ab4" stroke-width="5.3" stroke-dasharray="1 12.75"/>
<path d="M1452.3,315.7v25.3 M1520.45,315.7v25.3 M1589.2,315.7v25.3 M1657.95,315.7v25.3 M1726,315.7v25.3" stroke="#14148a" stroke-width="1.3"/>
<polygon points="1446.7,313 1456.7,313 1451.7,324" fill="#000"/>
<g font-size="14" font-weight="bold" fill="#fff" text-anchor="middle">
<text x="1451.7" y="354.4">0</text><text x="1520.45" y="354.4">5</text><text x="1589.2" y="354.4">10</text><text x="1657.95" y="354.4">15</text><text x="1726.7" y="354.4">20</text>
</g>
<text x="1444" y="390" font-size="23.5" fill="#8ab4f8">AH</text>
<text x="1602.7" y="390" font-size="23.5" fill="#fff">6.1 g/m³</text>
<text x="1709" y="390" font-size="23.5" fill="#fff">–</text>
<path d="M1444,404H1735" stroke="#5a5a5a" stroke-width="2"/>
<text x="1444" y="434.4" font-size="23.5" fill="#8ab4f8">RH</text>
<text x="1616" y="434.4" font-size="23.5" fill="#fff">66.4 %</text>
<text x="1709" y="434.4" font-size="23.5" fill="#fff">–</text>

<!-- pressure -->
<use href="#iPress" transform="translate(1386,494.5)"/>
<rect x="1452.7" y="498.3" width="273.3" height="31.7" fill="url(#gPress)"/>
<line x1="1460.6" y1="501.8" x2="1726" y2="501.8" stroke="#333" stroke-width="7" stroke-dasharray="1.2 9.74"/>
<path d="M1505,498.3v9 M1559.7,498.3v9 M1614.4,498.3v9 M1669.1,498.3v9" stroke="#333" stroke-width="1.5"/>
<g font-size="14" font-weight="bold" text-anchor="middle">
<text x="1505" y="525" fill="#555">955</text><text x="1559.5" y="525" fill="#262626">960</text><text x="1614.3" y="525" fill="#262626">965</text><text x="1669" y="525" fill="#555">970</text>
</g>
<path d="M1588.5,498.3V530" stroke="#ee1111" stroke-width="2"/>
<polygon points="1586,496 1591,496 1588.5,500" fill="#ffee00"/><polygon points="1586,532.5 1591,532.5 1588.5,528.5" fill="#ffee00"/>
<text x="1581.7" y="570" font-size="23.5" fill="#fff">962.7 hPa</text>
<text x="1709" y="570" font-size="23.5" fill="#fff">–</text>

<!-- rain -->
<use href="#iRain" transform="translate(1384,641)"/>
<rect x="1452.3" y="644" width="274.4" height="25" fill="url(#gBar)"/>
<line x1="1452.3" y1="666.3" x2="1726.7" y2="666.3" stroke="#5a5ab4" stroke-width="5" stroke-dasharray="1 12.72"/>
<path d="M1520.9,644v25 M1589.5,644v25 M1658.1,644v25 M1726,644v25" stroke="#14148a" stroke-width="1.3"/>
<path d="M1453.3,644v25" stroke="#101080" stroke-width="2.2"/>
<g font-size="14" font-weight="bold" fill="#fff" text-anchor="middle">
<text x="1452.3" y="683">0</text><text x="1520.9" y="683">5</text><text x="1589.5" y="683">10</text><text x="1658.1" y="683">15</text><text x="1726.7" y="683">20</text>
</g>
<text x="1445" y="717.4" font-size="23.5" fill="#8ab4f8">Now</text>
<text x="1611.7" y="717.4" font-size="23.5" fill="#fff">0.0 mm</text>
<path d="M1444,731H1735" stroke="#5a5a5a" stroke-width="2"/>
<text x="1445" y="762.4" font-size="23.5" fill="#8ab4f8">Today</text>
<text x="1611.7" y="762.4" font-size="23.5" fill="#fff">0.2 mm</text>

<!-- wind -->
<use href="#iWind" transform="translate(1384,823)"/>
<rect x="1452.3" y="826" width="274.4" height="25" fill="url(#gBar)"/>
<rect x="1452.3" y="826" width="20.6" height="25" fill="url(#gTeal)"/>
<line x1="1452.3" y1="848.3" x2="1726.7" y2="848.3" stroke="#5a5ab4" stroke-width="5" stroke-dasharray="1 5.86"/>
<path d="M1453,826v25 M1486.6,826v25 M1520.9,826v25 M1555.2,826v25 M1589.5,826v25 M1623.8,826v25 M1658.1,826v25 M1692.4,826v25 M1726,826v25" stroke="#14148a" stroke-width="1.3"/>
<polygon points="1460.7,823.5 1470.7,823.5 1465.7,835" fill="#000"/><polygon points="1520.7,823.5 1530.7,823.5 1525.7,835" fill="#000"/>
<g font-size="14" font-weight="bold" fill="#fff" text-anchor="middle">
<text x="1452.3" y="865">0</text><text x="1486.6" y="865">5</text><text x="1520.9" y="865">10</text><text x="1555.2" y="865">15</text><text x="1589.5" y="865">20</text><text x="1623.8" y="865">25</text><text x="1658.1" y="865">30</text><text x="1692.4" y="865">35</text><text x="1726.7" y="865">40</text>
</g>
<text x="1445" y="899.4" font-size="23.5" fill="#8ab4f8">Spd</text>
<text x="1608" y="899.4" font-size="23.5" fill="#fff">3.0 m/s</text>
<path d="M1715.7,900V887" stroke="#fff" stroke-width="3.5"/>
<polygon points="1708.5,891 1715.7,882 1722.9,891" fill="#fff"/>
<path d="M1444,913H1735" stroke="#5a5a5a" stroke-width="2"/>
<text x="1445" y="943.4" font-size="23.5" fill="#8ab4f8">Dir</text>
<text x="1610" y="943.4" font-size="23.5" fill="#fff">246 °N</text>
</svg>
</body></html>
